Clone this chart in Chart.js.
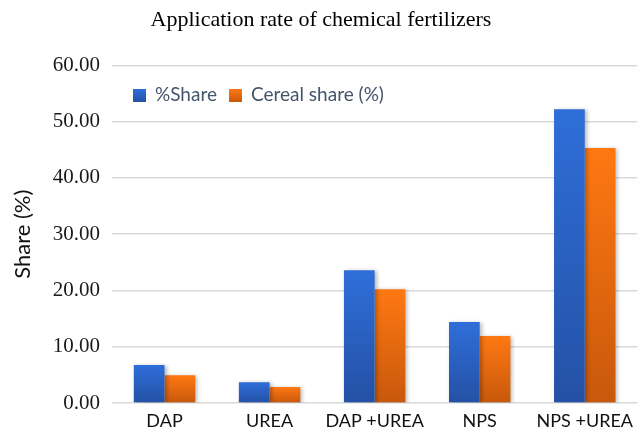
<!DOCTYPE html>
<html>
<head>
<meta charset="utf-8">
<script src="https://cdn.jsdelivr.net/npm/chart.js@4/dist/chart.umd.min.js"></script>
<style>
html,body{margin:0;padding:0;background:#fff;}
#wrap{width:640px;height:435px;position:relative;}
</style>
</head>
<body>
<div id="wrap"><canvas id="c" width="640" height="435"></canvas></div>
<script>
const categories = ["DAP", "UREA", "DAP +UREA", "NPS", "NPS +UREA"];
const shareValues = [6.75, 3.7, 23.6, 14.4, 52.2];
const cerealValues = [4.95, 2.85, 20.2, 11.9, 45.3];
const seriesNames = ["%Share", "Cereal share (%)"];
const yTicks = [0, 10, 20, 30, 40, 50, 60];

const blueStops = ['#2F6ED9', '#2451A5'];
const orangeStops = ['#FF7812', '#C8580C'];

function barFill(stops, fallback) {
  return (c) => {
    const chart = c.chart;
    const ys = chart.scales && chart.scales.y;
    if (!ys || !chart.chartArea || c.type !== 'data') return fallback;
    const v = c.dataset.data[c.dataIndex];
    const top = ys.getPixelForValue(v);
    const bottom = ys.getPixelForValue(0);
    if (!isFinite(top) || !isFinite(bottom) || top === bottom) return fallback;
    const g = chart.ctx.createLinearGradient(0, top, 0, bottom);
    g.addColorStop(0, stops[0]);
    g.addColorStop(1, stops[1]);
    return g;
  };
}

const shadowPlugin = {
  id: 'barShadow',
  beforeDatasetsDraw(chart) {
    const ctx = chart.ctx;
    ctx.save();
    ctx.shadowColor = 'rgba(0,0,0,0.28)';
    ctx.shadowBlur = 4;
    ctx.shadowOffsetX = 2;
    ctx.shadowOffsetY = 1;
  },
  afterDatasetsDraw(chart) {
    chart.ctx.restore();
  }
};

const insideLegend = {
  id: 'insideLegend',
  afterDraw(chart) {
    const ctx = chart.ctx;
    ctx.save();
    ctx.font = '19px Lato';
    ctx.textBaseline = 'middle';
    ctx.textAlign = 'left';
    let x = 133;
    const y = 95;
    const colors = [blueStops, orangeStops];
    chart.data.datasets.forEach((ds, i) => {
      const g = ctx.createLinearGradient(0, y - 6, 0, y + 7);
      g.addColorStop(0, colors[i][0]);
      g.addColorStop(1, colors[i][1]);
      ctx.fillStyle = g;
      ctx.fillRect(x, y - 6, 13, 13);
      ctx.fillStyle = '#44546A';
      ctx.fillText(ds.label, x + 22, y);
      x += 22 + ctx.measureText(ds.label).width + 12;
    });
    ctx.restore();
  }
};

new Chart(document.getElementById('c'), {
  type: 'bar',
  data: {
    labels: categories,
    datasets: [
      { label: seriesNames[0], data: shareValues, backgroundColor: barFill(blueStops, '#2B60C0') },
      { label: seriesNames[1], data: cerealValues, backgroundColor: barFill(orangeStops, '#E86810') }
    ]
  },
  options: {
    responsive: false,
    animation: false,
    devicePixelRatio: 1,
    layout: { padding: { left: 0, right: -2, top: 0, bottom: 0 } },
    datasets: { bar: { categoryPercentage: 0.585, barPercentage: 1.0 } },
    plugins: {
      legend: { display: false },
      tooltip: { enabled: false },
      title: {
        display: true,
        text: 'Application rate of chemical fertilizers',
        color: '#000',
        font: { family: 'Liberation Serif', size: 22, weight: 'normal' },
        padding: { top: 7, bottom: 32 }
      }
    },
    scales: {
      x: {
        grid: { display: false, drawTicks: false },
        border: { display: false },
        ticks: { color: '#111', font: { family: 'Lato', size: 18 }, padding: 7, maxRotation: 0, autoSkip: false },
        afterFit(s) { s.height = 32; }
      },
      y: {
        min: 0, max: 60,
        afterBuildTicks(s) { s.ticks = yTicks.map(v => ({ value: v })); },
        grid: { color: '#D9D9D9', lineWidth: 1.5, drawTicks: false },
        border: { display: false },
        ticks: {
          color: '#1a1a1a',
          font: { family: 'Liberation Serif', size: 21 },
          padding: 12,
          callback: (v) => Number(v).toFixed(2)
        },
        title: {
          display: true,
          text: 'Share (%)',
          color: '#111',
          font: { family: 'Lato', size: 22 },
          padding: { top: 10, bottom: 0 }
        },
        afterFit(s) { s.width = 112; }
      }
    }
  },
  plugins: [shadowPlugin, insideLegend]
});
</script>
</body>
</html>
